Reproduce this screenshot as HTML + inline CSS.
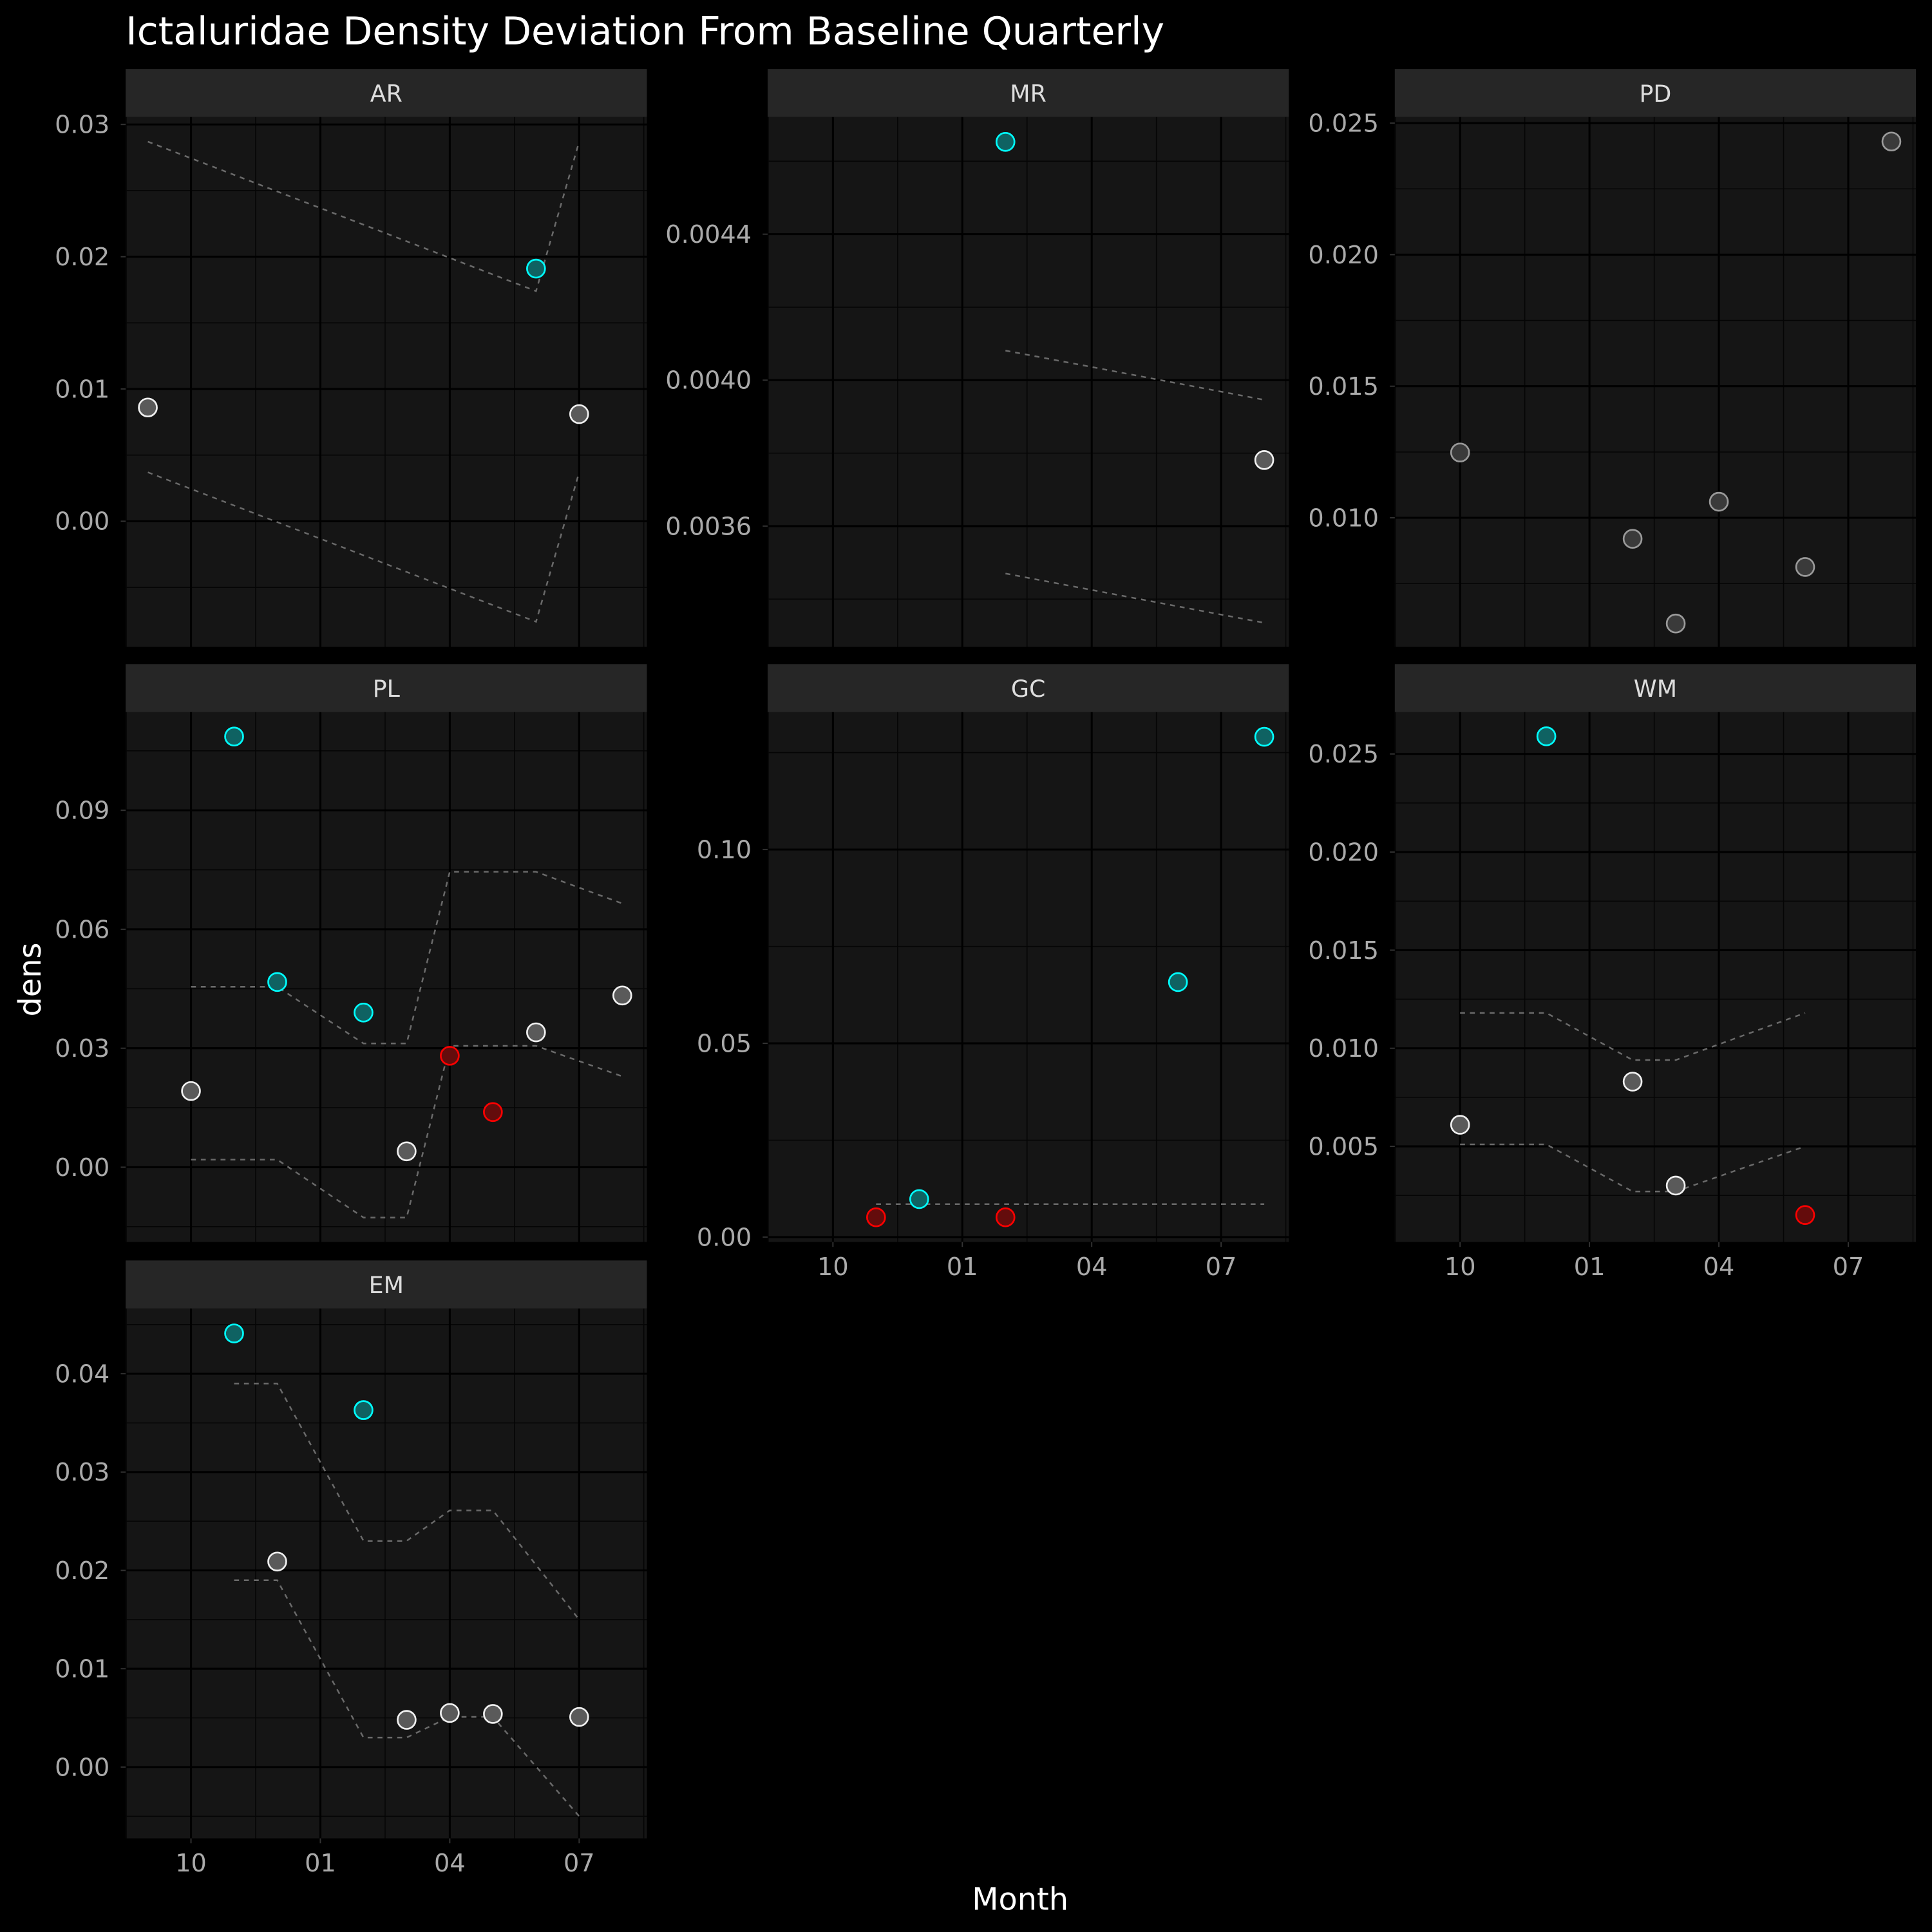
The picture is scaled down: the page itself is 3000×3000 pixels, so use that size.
<!DOCTYPE html>
<html><head><meta charset="utf-8"><style>
html,body{margin:0;padding:0;background:#000;}
svg{display:block;}
text{font-family:"DejaVu Sans","Liberation Sans",sans-serif;}
</style></head><body>
<svg id="chart" width="3000" height="3000" viewBox="0 0 1568 1568" xmlns="http://www.w3.org/2000/svg">
<rect x="0" y="0" width="1568" height="1568" fill="#000"/>
<text x="102" y="36" fill="#fff" font-size="31.3">Ictaluridae Density Deviation From Baseline Quarterly</text>
<text x="828" y="1550" fill="#fff" font-size="25" text-anchor="middle">Month</text>
<text x="0" y="0" fill="#fff" font-size="25" text-anchor="middle" transform="translate(33,795) rotate(-90)">dens</text>
<g id="panels"></g>
</svg>
<script>
// month index: Oct=0 ... Sep=-1, Aug=10
const xTickLabels = ["10","01","04","07"];
const xTickMonths = [0,3,6,9];
const xDomain = [-1.514, 10.57];

const panelNames = ["AR","MR","PD","PL","GC","WM","EM"];
const yDomains = [[-0.0095,0.03056],[0.003269,0.004721],[0.005093,0.02523],[-0.01887,0.11475],[-0.00127,0.13544],[0.000125,0.02713],[-0.00725,0.04663]];
const yTicks = [[0,0.01,0.02,0.03],[0.0036,0.004,0.0044],[0.01,0.015,0.02,0.025],[0,0.03,0.06,0.09],[0,0.05,0.1],[0.005,0.01,0.015,0.02,0.025],[0,0.01,0.02,0.03,0.04]];
const yTickLabels = [["0.00","0.01","0.02","0.03"],["0.0036","0.0040","0.0044"],["0.010","0.015","0.020","0.025"],["0.00","0.03","0.06","0.09"],["0.00","0.05","0.10"],["0.005","0.010","0.015","0.020","0.025"],["0.00","0.01","0.02","0.03","0.04"]];

// points: month, value, category (c=cyan high, r=red low, g=normal)
const ptMonths = [[-1,8,9],[4,10],[0,4,5,6,8,10],[1,0,2,4,5,6,7,8,10],[1,2,4,8,10],[0,2,4,5,8],[1,2,4,5,6,7,9]];
const ptValues = [[0.0086,0.0191,0.0081],[0.004653,0.003781],[0.01248,0.0092,0.00598,0.01061,0.00813,0.0243],[0.1086,0.0192,0.0467,0.039,0.004,0.0281,0.0139,0.034,0.0433],[0.0051,0.0098,0.0051,0.0658,0.1291],[0.0061,0.0259,0.0083,0.003,0.0015],[0.0441,0.0209,0.0363,0.0048,0.0055,0.0054,0.0051]];
const ptCats = [["g","c","g"],["c","g"],["d","d","d","d","d","d"],["c","g","c","c","g","r","r","g","g"],["r","c","r","c","c"],["g","c","g","g","r"],["c","g","c","g","g","g","g"]];

// baseline bands
const bandMonths = [[-1,8,9],[4,10],[],[0,2,4,5,6,8,10],[1,10],[0,2,4,5,8],[1,2,4,5,6,7,9]];
const bandUpper = [[0.0287,0.0174,0.0287],[0.004081,0.003946],[],[0.0455,0.0455,0.0312,0.0312,0.0745,0.0745,0.0665],[0.0085,0.0085],[0.0118,0.0118,0.0094,0.0094,0.0118],[0.039,0.039,0.023,0.023,0.0261,0.0261,0.015]];
const bandLower = [[0.0037,-0.0076,0.0037],[0.00347,0.003335],[],[0.0019,0.0019,-0.0127,-0.0127,0.0306,0.0306,0.0229],[null,null],[0.0051,0.0051,0.0027,0.0027,0.005],[0.019,0.019,0.003,0.003,0.0051,0.0051,-0.005]];

const NS="http://www.w3.org/2000/svg";
const root=document.getElementById("panels");
const colX=[102,623,1132], rowY=[95,578,1062], PW=423, PH=430, STRIP=39;
const showX=[false,false,false,false,true,true,true];
const styles={c:["#0f6262","#00ffff"],r:["#640c0c","#ff0000"],g:["#5a5a5a","#f0f0f0"],d:["#3a3a3a","#9a9a9a"]};
function mk(tag,attrs,parent){const e=document.createElementNS(NS,tag);for(const k in attrs)e.setAttribute(k,attrs[k]);parent.appendChild(e);return e;}

panelNames.forEach((name,i)=>{
  const col=i%3,row=Math.floor(i/3);
  const x0=colX[col],y0=rowY[row];
  const g=mk("g",{},root);
  
  
  const xs=m=>x0+(m-xDomain[0])/(xDomain[1]-xDomain[0])*PW;
  const yd=yDomains[i];
  const ys=v=>y0+PH-(v-yd[0])/(yd[1]-yd[0])*PH;
  const strip=mk("rect",{x:x0,y:y0-STRIP,width:PW,height:STRIP,fill:"#262626"},g);
  
  
  const st=mk("text",{x:x0+PW/2,y:y0-STRIP/2+7,fill:"#ddd","font-size":"19","text-anchor":"middle"},g);
  st.textContent=name;
  
  
  mk("rect",{x:x0,y:y0,width:PW,height:PH,fill:"#151515"},g);
  for(let m=-1.5;m<=10.6;m+=3){const x=xs(m);if(x>x0&&x<x0+PW)mk("line",{x1:x,x2:x,y1:y0,y2:y0+PH,stroke:"#050505","stroke-width":0.8},g);}
  const t=yTicks[i],step=t[1]-t[0];
  for(let k=-3;k<t.length+3;k++){const v=t[0]+(k+0.5)*step;const y=ys(v);if(y>y0&&y<y0+PH)mk("line",{x1:x0,x2:x0+PW,y1:y,y2:y,stroke:"#050505","stroke-width":0.8},g);}
  xTickMonths.forEach((m,j)=>{const x=xs(m);mk("line",{x1:x,x2:x,y1:y0,y2:y0+PH,stroke:"#000","stroke-width":1.6},g);
    if(showX[i]){mk("line",{x1:x,x2:x,y1:y0+PH,y2:y0+PH+4,stroke:"#333","stroke-width":1},g);
      const tx=mk("text",{x:x,y:y0+PH+27,fill:"#aaa","font-size":"20","text-anchor":"middle"},g);tx.textContent=xTickLabels[j];
      
      }});
  t.forEach((v,j)=>{const y=ys(v);mk("line",{x1:x0,x2:x0+PW,y1:y,y2:y,stroke:"#000","stroke-width":1.6},g);
    mk("line",{x1:x0-4,x2:x0,y1:y,y2:y,stroke:"#333","stroke-width":1},g);
    const ty=mk("text",{x:x0-13,y:y+7,fill:"#aaa","font-size":"20","text-anchor":"end"},g);ty.textContent=yTickLabels[i][j];
    
    });
  [bandUpper[i],bandLower[i]].forEach((arr,b)=>{
    const pts=[];bandMonths[i].forEach((m,j)=>{if(arr[j]!==null&&arr[j]!==undefined)pts.push(xs(m)+","+ys(arr[j]));});
    if(pts.length>1){const pl=mk("polyline",{points:pts.join(" "),fill:"none",stroke:"#6a6a6a","stroke-width":1.3,"stroke-dasharray":"4,4"},g);
      
      }
  });
  ptMonths[i].forEach((m,j)=>{const s=styles[ptCats[i][j]];
    const c=mk("circle",{cx:xs(m),cy:ys(ptValues[i][j]),r:7.3,fill:s[0],stroke:s[1],"stroke-width":1.4},g);
    
    });
});
</script>
</body></html>
